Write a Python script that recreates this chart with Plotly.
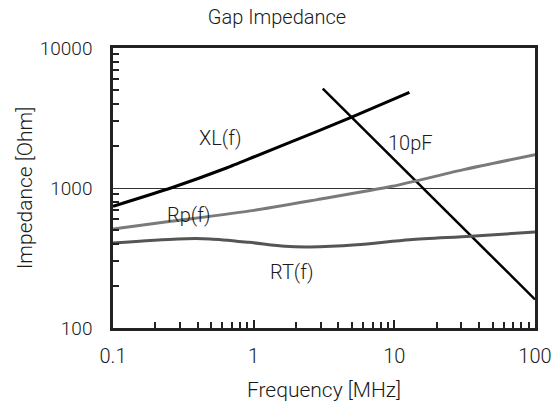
import math
import plotly.graph_objects as go

# Frequency [MHz] and impedance [Ohm]
xl_freq = [0.1, 0.258, 0.64, 1.0, 2.83, 4.93, 12.8]
xl_imp = [740, 1000, 1390, 1665, 2540, 3200, 4820]

c10_freq = [3.1, 10, 100]
c10_imp = [5130, 1590, 160]

rp_freq = [0.1, 0.258, 1.0, 2.83, 9.66, 31, 100]
rp_imp = [510, 578, 692, 826, 1028, 1352, 1730]

rt_freq = [0.1, 0.29, 0.49, 0.93, 1.67, 2.5, 5.4, 12.9, 35, 100]
rt_imp = [405, 433, 433, 409, 383, 379, 393, 427, 452, 485]

label_text = ["XL(f)", "10pF", "Rp(f)", "RT(f)"]
label_freq = [0.58, 13.0, 0.346, 1.88]
label_imp = [2270, 2080, 645, 250]

x_tickvals = [0.1, 1, 10, 100]
x_ticktext = ["0.1", "1", "10", "100"]
y_tickvals = [100, 1000, 10000]
y_ticktext = ["100", "1000", "10000"]

FONT = "Roboto, Liberation Sans, sans-serif"
TXT = "#1a1a1a"

fig = go.Figure()
fig.add_trace(go.Scatter(x=xl_freq, y=xl_imp, mode="lines", line=dict(color="#000000", width=3, shape="spline", smoothing=0.5)))
fig.add_trace(go.Scatter(x=c10_freq, y=c10_imp, mode="lines", line=dict(color="#000000", width=2.5)))
fig.add_trace(go.Scatter(x=rp_freq, y=rp_imp, mode="lines", line=dict(color="#7a7a7a", width=3, shape="spline", smoothing=0.6)))
fig.add_trace(go.Scatter(x=rt_freq, y=rt_imp, mode="lines", line=dict(color="#555555", width=3, shape="spline", smoothing=0.8)))

for t, fx, fy in zip(label_text, label_freq, label_imp):
    fig.add_annotation(x=math.log10(fx), y=math.log10(fy), text=t, showarrow=False, xref="x", yref="y",
                       font=dict(family=FONT, size=20, color=TXT, weight=300))

x_minor = [m * 10 ** e for e in (-1, 0, 1) for m in range(2, 10)]
y_minor = [m * 10 ** e for e in (2, 3) for m in range(2, 10)]

fig.update_xaxes(type="log", range=[-1, 2], tickvals=x_tickvals, ticktext=x_ticktext,
                 ticks="inside", ticklen=8, tickwidth=2, tickcolor="#222",
                 minor=dict(tickvals=x_minor, ticks="inside", ticklen=6, tickwidth=1.5, tickcolor="#222"),
                 showline=True, linecolor="#222", linewidth=2.5, mirror=True, showgrid=False,
                 zeroline=False, automargin=False, ticklabelstandoff=8,
                 tickfont=dict(family=FONT, size=20, color=TXT, weight=300),
                 title=dict(text="Frequency [MHz]", font=dict(family=FONT, size=21, color=TXT, weight=300), standoff=17))
fig.update_yaxes(type="log", range=[2, 4], tickvals=y_tickvals, ticktext=y_ticktext,
                 ticks="",
                 minor=dict(tickvals=y_minor, ticks="inside", ticklen=6, tickwidth=1.5, tickcolor="#222"),
                 showline=True, linecolor="#222", linewidth=2.5, mirror=True,
                 showgrid=True, gridcolor="#333", gridwidth=1, zeroline=False, automargin=False,
                 tickfont=dict(family=FONT, size=19, color=TXT, weight=300), ticklabelstandoff=14,
                 title=dict(text="Impedance [Ohm]", font=dict(family=FONT, size=21, color=TXT, weight=300), standoff=2))

fig.update_layout(
    width=559, height=402,
    margin=dict(l=113, r=24, t=48, b=74),
    paper_bgcolor="white", plot_bgcolor="white",
    showlegend=False,
    title=dict(text="Gap Impedance", x=277 / 559, xref="container", xanchor="center",
               y=1 - 17 / 402, yref="container", yanchor="middle",
               font=dict(family=FONT, size=20, color=TXT, weight=300)),
)

fig.write_html("out.html", config={"displayModeBar": False},
               post_script="document.body.style.margin='0';document.body.style.padding='0';")
